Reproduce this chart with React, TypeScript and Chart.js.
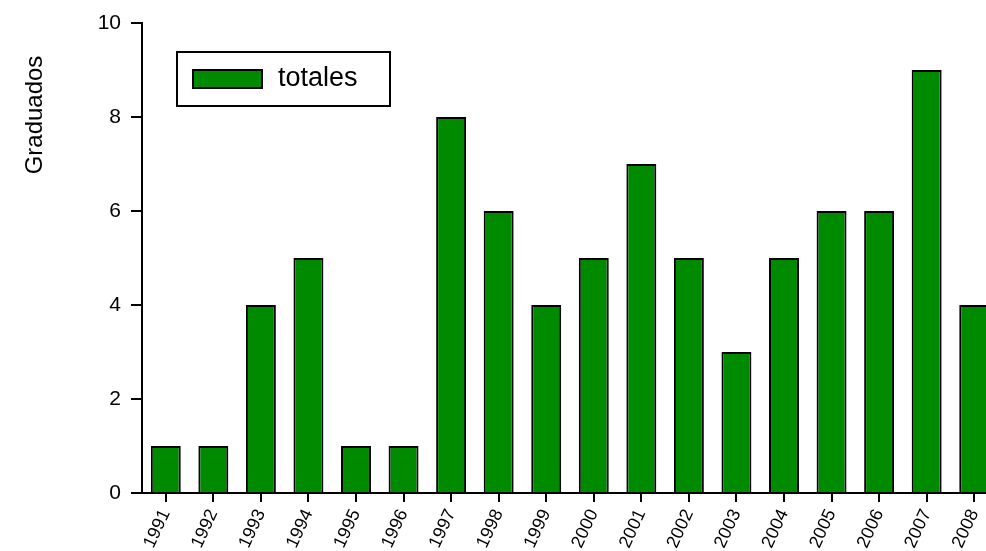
import React, { useEffect, useRef } from "react";
import { Chart, registerables } from "chart.js";

Chart.register(...registerables);

const categories = ["1991","1992","1993","1994","1995","1996","1997","1998","1999","2000","2001","2002","2003","2004","2005","2006","2007","2008"];
const totales = [1, 1, 4, 5, 1, 1, 8, 6, 4, 5, 7, 5, 3, 5, 6, 6, 9, 4];
const yTicks = [0, 2, 4, 6, 8, 10];
const seriesLabel = "totales";
const yTitle = "Graduados";

const GREEN = "#008a00";
const FONT = "'Liberation Sans', Arial, sans-serif";

const yTitlePlugin = {
  id: "yTitlePlugin",
  afterDraw(chart: any) {
    const ctx = chart.ctx;
    ctx.save();
    ctx.translate(35, 115);
    ctx.rotate(-Math.PI / 2);
    ctx.font = `24px ${FONT}`;
    ctx.fillStyle = "#000";
    ctx.textAlign = "center";
    ctx.textBaseline = "middle";
    ctx.fillText(yTitle, 0, 0);
    ctx.restore();
  },
};

const legendPlugin = {
  id: "boxLegend",
  afterDraw(chart: any) {
    const ctx = chart.ctx;
    const ds = chart.data.datasets[0];
    ctx.save();
    ctx.fillStyle = "#fff";
    ctx.fillRect(177, 52, 213, 54);
    ctx.lineWidth = 2;
    ctx.strokeStyle = "#000";
    ctx.strokeRect(177, 52, 213, 54);
    ctx.fillStyle = ds.backgroundColor;
    ctx.fillRect(193, 70, 69, 18);
    ctx.strokeRect(193, 70, 69, 18);
    ctx.fillStyle = "#000";
    ctx.font = `27px ${FONT}`;
    ctx.textAlign = "left";
    ctx.textBaseline = "middle";
    ctx.fillText(ds.label, 278, 79);
    ctx.restore();
  },
};

export default function App() {
  const ref = useRef<HTMLCanvasElement>(null);
  useEffect(() => {
    if (!ref.current) return;
    const chart = new Chart(ref.current, {
      type: "bar",
      data: {
        labels: categories,
        datasets: [
          {
            label: seriesLabel,
            data: totales,
            backgroundColor: GREEN,
            borderColor: "#000",
            borderWidth: 2,
            barPercentage: 0.63,
            categoryPercentage: 1,
          },
        ],
      },
      options: {
        responsive: false,
        animation: false,
        devicePixelRatio: 1,
        layout: { padding: { top: 23, left: 0, right: 2, bottom: 0 } },
        plugins: {
          legend: { display: false },
          tooltip: { enabled: false },
        },
        scales: {
          x: {
            offset: true,
            grid: {
              offset: false,
              drawOnChartArea: false,
              drawTicks: true,
              tickLength: 9,
              color: "#000",
              lineWidth: 2,
            },
            border: { display: true, color: "#000", width: 2 },
            ticks: {
              color: "#000",
              font: { family: FONT, size: 18 },
              minRotation: 65,
              maxRotation: 65,
              padding: 4,
              autoSkip: false,
            },
            afterFit(scale: any) {
              scale.height = 58;
              scale.paddingLeft = 0;
              scale.paddingRight = 0;
            },
          },
          y: {
            min: 0,
            max: 10,
            afterBuildTicks(scale: any) {
              scale.ticks = yTicks.map((v) => ({ value: v }));
            },
            grid: {
              drawOnChartArea: false,
              drawTicks: true,
              tickLength: 11,
              color: "#000",
              lineWidth: 2,
            },
            border: { display: true, color: "#000", width: 2 },
            ticks: {
              color: "#000",
              font: { family: FONT, size: 21 },
              padding: 10,
            },
            afterFit(scale: any) {
              scale.width = 142;
              scale.paddingTop = 0;
              scale.paddingBottom = 0;
            },
          },
        },
      },
      plugins: [yTitlePlugin, legendPlugin],
    });
    return () => chart.destroy();
  }, []);
  return (
    <div style={{ position: "fixed", left: 0, top: 0, width: 986, height: 551, overflow: "hidden", background: "#fff" }}>
      <canvas ref={ref} width={1000} height={551} style={{ display: "block" }} />
    </div>
  );
}
